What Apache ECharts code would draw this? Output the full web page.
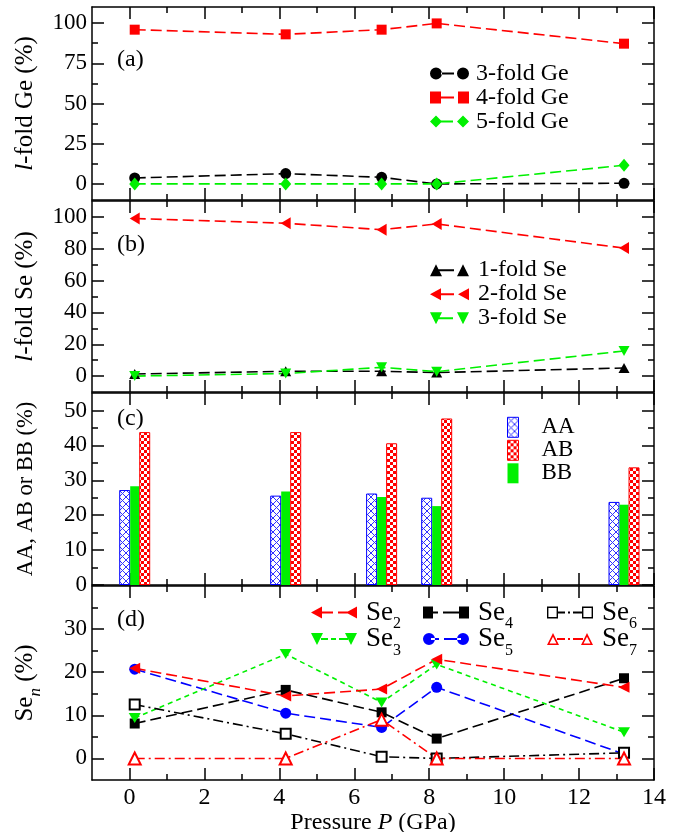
<!DOCTYPE html>
<html><head><meta charset="utf-8">
<script src="https://cdn.jsdelivr.net/npm/echarts@6/dist/echarts.min.js"></script>
<style>html,body{margin:0;padding:0;background:#fff}#c{width:681px;height:832px}</style>
</head><body><div id="c"></div>
<script>
// ---------------- data ----------------
const pressure = [0.14, 4.17, 6.73, 8.2, 13.2];
// (a) l-fold Ge (%)
const ge3fold = [3.7, 6.4, 4.1, 0, 0.4];
const ge4fold = [95.9, 93.0, 95.9, 99.8, 87.2];
const ge5fold = [0, 0, 0, 0, 11.6];
// (b) l-fold Se (%)
const se1fold = [1.3, 3.0, 3.0, 2.2, 5.1];
const se2fold = [99.0, 96.0, 92.0, 95.6, 80.4];
const se3fold = [0, 1.6, 5.5, 2.8, 15.8];
// (c) AA, AB, BB (%)
const bondAA = [27.2, 25.6, 26.2, 25.0, 23.8];
const bondAB = [43.8, 43.8, 40.6, 47.7, 33.7];
const bondBB = [28.3, 26.8, 25.2, 22.6, 23.0];
// (d) Se_n (%)
const seN2 = [20.9, 14.5, 16.1, 23.0, 16.5];
const seN3 = [9.4, 24.2, 13.0, 21.8, 6.1];
const seN4 = [8.1, 15.9, 10.7, 4.6, 18.6];
const seN5 = [20.7, 10.5, 7.2, 16.5, 1.0];
const seN6 = [12.5, 5.7, 0.4, 0, 1.3];
const seN7 = [0, 0, 9.0, 0, 0];
// ticks
const xTicks = [0, 2, 4, 6, 8, 10, 12, 14];
const xMinor = [1, 3, 5, 7, 9, 11, 13];
const yTicksA = [0, 25, 50, 75, 100], yMinorA = [12.5, 37.5, 62.5, 87.5];
const yTicksB = [0, 20, 40, 60, 80, 100], yMinorB = [10, 30, 50, 70, 90];
const yTicksC = [0, 10, 20, 30, 40, 50], yMinorC = [5, 15, 25, 35, 45];
const yTicksD = [0, 10, 20, 30], yMinorD = [5, 15, 25, 35];

// ---------------- styling ----------------
const FONT = 'Liberation Serif';
const BLACK = '#000000', RED = '#ff0000', GREEN = '#00f000', BLUE = '#0000ff';
const chart = echarts.init(document.getElementById('c'), null, {renderer: 'canvas', width: 681, height: 832});

const gridBoxes = [[7, 193], [201, 191], [393, 192], [586, 194]];
const grid = gridBoxes.map(([t, h]) => ({left: 92, right: 27, top: t, height: h, containLabel: false, outerBoundsMode: 'none'}));
const yRanges = [[-10, 110, 10], [-10, 110, 10], [0, 55, 5], [-5, 40, 5]];
const yMajors = [yTicksA, yTicksB, yTicksC, yTicksD];
const yMinors = [yMinorA, yMinorB, yMinorC, yMinorD];
const yNames = ['{i|l}-fold Ge (%)', '{i|l}-fold Se (%)', 'AA, AB or BB (%)', '{m|Se}{s|n}{m| (%)}'];
const yNameSizes = [25, 25, 22.5, 25];
const lineSt = {color: BLACK, width: 1.5};

const xAxis = [], yAxis = [];
for (let g = 0; g < 4; g++) {
  for (const pos of ['bottom', 'top']) {
    for (const major of [true, false]) {
      const showLab = major && g === 3 && pos === 'bottom';
      xAxis.push({
        type: 'value', gridIndex: g, position: pos, min: -1, max: 14, interval: 1,
        axisLine: {show: major, onZero: false, lineStyle: lineSt},
        axisTick: {show: true, inside: true, length: major ? 12 : 6, customValues: major ? xTicks : xMinor, lineStyle: lineSt},
        axisLabel: {show: showLab, customValues: xTicks, margin: 6, color: BLACK, fontFamily: FONT, fontSize: 24},
        splitLine: {show: false}, minorTick: {show: false},
        name: showLab ? 'Pressure {i|P} (GPa)' : '', nameLocation: 'middle', nameGap: 26,
        nameTextStyle: {color: BLACK, fontFamily: FONT, fontSize: 24,
          rich: {i: {fontStyle: 'italic', fontFamily: FONT, fontSize: 24, color: BLACK}}}
      });
    }
  }
  for (const pos of ['left', 'right']) {
    for (const major of [true, false]) {
      const showLab = major && pos === 'left';
      yAxis.push({
        type: 'value', gridIndex: g, position: pos, min: yRanges[g][0], max: yRanges[g][1], interval: yRanges[g][2],
        axisLine: {show: major, onZero: false, lineStyle: lineSt},
        axisTick: {show: true, inside: true, length: major ? 12 : 6, customValues: major ? yMajors[g] : yMinors[g], lineStyle: lineSt},
        axisLabel: {show: showLab, customValues: yMajors[g], margin: 5, color: BLACK, fontFamily: FONT, fontSize: 23},
        splitLine: {show: false}, minorTick: {show: false},
        name: showLab ? yNames[g] : '', nameLocation: 'middle', nameGap: 54,
        nameTextStyle: {color: BLACK, fontFamily: FONT, fontSize: yNameSizes[g],
          rich: {
            i: {fontStyle: 'italic', fontFamily: FONT, fontSize: yNameSizes[g], color: BLACK},
            m: {fontFamily: FONT, fontSize: 25, lineHeight: 25, verticalAlign: 'middle', color: BLACK},
            s: {fontFamily: FONT, fontSize: 17, fontStyle: 'italic', lineHeight: 10, padding: [14, 0, 0, 0], verticalAlign: 'top', color: BLACK}
          }}
      });
    }
  }
}

// ---------------- symbols / legend icons ----------------
const SYM_LEFT = 'path://M0,5L10,0L10,10Z';
const SYM_DOWN = 'path://M0,0L10,0L5,10Z';
function shape(type, x, y, w, h) {
  const cx = x + w / 2, cy = y + h / 2;
  switch (type) {
    case 'circle': { const r = w / 2; return `M${cx - r},${cy}A${r} ${r} 0 1 0 ${cx + r},${cy}A${r} ${r} 0 1 0 ${cx - r},${cy}Z`; }
    case 'rect': return `M${x},${y}L${x + w},${y}L${x + w},${y + h}L${x},${y + h}Z`;
    case 'diamond': return `M${cx},${y}L${x + w},${cy}L${cx},${y + h}L${x},${cy}Z`;
    case 'tri': return `M${cx},${y}L${x + w},${y + h}L${x},${y + h}Z`;
    case 'down': return `M${x},${y}L${x + w},${y}L${cx},${y + h}Z`;
    case 'left': return `M${x},${cy}L${x + w},${y}L${x + w},${y + h}Z`;
    case 'openRect': { const t = 1.4;
      return `M${x},${y}L${x + w},${y}L${x + w},${y + h}L${x},${y + h}Z` +
             `M${x + t},${y + t}L${x + t},${y + h - t}L${x + w - t},${y + h - t}L${x + w - t},${y + t}Z`; }
    case 'openTri': { const t = 1.4;
      return `M${cx},${y}L${x + w},${y + h}L${x},${y + h}Z` +
             `M${cx},${y + 2.6 * t}L${x + 1.8 * t},${y + h - t}L${x + w - 1.8 * t},${y + h - t}Z`; }
  }
}
function icon(type, W, H, s, segs) {
  let p = shape(type, 0, 0, s, H);
  for (const [a, b] of segs) p += `M${a},${H / 2 - 1}L${b},${H / 2 - 1}L${b},${H / 2 + 1}L${a},${H / 2 + 1}Z`;
  p += shape(type, W - s, 0, s, H);
  return 'path://' + p;
}

// ---------------- patterns ----------------
function hatch() {
  const c = document.createElement('canvas'); c.width = 7; c.height = 7;
  const ctx = c.getContext('2d');
  ctx.fillStyle = '#ffffff'; ctx.fillRect(0, 0, 7, 7);
  ctx.strokeStyle = '#3030ff'; ctx.lineWidth = 1;
  ctx.beginPath(); ctx.moveTo(0, 0); ctx.lineTo(7, 7); ctx.moveTo(7, 0); ctx.lineTo(0, 7); ctx.stroke();
  return {image: c, repeat: 'repeat'};
}
function checker() {
  const c = document.createElement('canvas'); c.width = 6; c.height = 6;
  const ctx = c.getContext('2d');
  ctx.fillStyle = '#ffffff'; ctx.fillRect(0, 0, 6, 6);
  ctx.fillStyle = RED; ctx.fillRect(0, 0, 3, 3); ctx.fillRect(3, 3, 3, 3);
  return {image: c, repeat: 'repeat'};
}
const patAA = hatch(), patAB = checker();

// ---------------- series ----------------
const pts = vals => pressure.map((p, i) => [p, vals[i]]);
function line(name, vals, g, color, symbol, size, dash, empty) {
  return {
    type: 'line', name, xAxisIndex: 4 * g, yAxisIndex: 4 * g, data: pts(vals),
    symbol, symbolSize: size, showAllSymbol: true, animation: false,
    lineStyle: {color, width: 1.6, type: dash},
    itemStyle: empty ? {color, borderColor: color, borderWidth: 1.4} : {color, borderWidth: 0}
  };
}
const DASH = [11, 5], SHORT = [5, 4], DASHDOT = [10, 4, 2, 4];
function bar(name, vals, pat, border, w) {
  return {
    type: 'bar', name, xAxisIndex: 8, yAxisIndex: 8, data: pts(vals), barWidth: w, barGap: '0%', animation: false,
    itemStyle: {color: pat, borderColor: border, borderWidth: border ? 1 : 0}
  };
}
const series = [
  line('3-fold Ge', ge3fold, 0, BLACK, 'circle', 11, DASH),
  line('4-fold Ge', ge4fold, 0, RED, 'rect', 10, DASH),
  line('5-fold Ge', ge5fold, 0, GREEN, 'diamond', [11, 13], DASH),
  line('1-fold Se', se1fold, 1, BLACK, 'triangle', [11, 10], DASH),
  line('2-fold Se', se2fold, 1, RED, SYM_LEFT, [10, 12], DASH),
  line('3-fold Se', se3fold, 1, GREEN, SYM_DOWN, [11, 10], DASH),
  bar('AA', bondAA, patAA, BLUE, 11),
  bar('BB', bondBB, GREEN, null, 9),
  bar('AB', bondAB, patAB, RED, 11),
  line('Se5', seN5, 3, BLUE, 'circle', 11, DASH),
  line('Se4', seN4, 3, BLACK, 'rect', 10, DASH),
  line('Se3', seN3, 3, GREEN, SYM_DOWN, [12, 10], SHORT),
  line('Se2', seN2, 3, RED, SYM_LEFT, [11, 11], DASH),
  line('Se6', seN6, 3, BLACK, 'emptyRect', 10, DASHDOT, true),
  line('Se7', seN7, 3, RED, 'emptyTriangle', 12, DASHDOT, true)
];

// ---------------- legends ----------------
const txt = (size, lh, padL) => ({color: BLACK, fontFamily: FONT, fontSize: size, lineHeight: lh, padding: [0, 0, 0, padL]});
const li = (name, ic, color) => ({name, icon: ic, itemStyle: {color, borderWidth: 0}});
const seRich = {
  m: {fontFamily: FONT, fontSize: 27, lineHeight: 31, verticalAlign: 'middle', color: BLACK},
  s: {fontFamily: FONT, fontSize: 16, lineHeight: 8, padding: [19, 0, 0, 0], verticalAlign: 'top', color: BLACK}
};
function seLegend(name, ic, color, left, rowCenter) {
  return {left, top: rowCenter - 15.5, orient: 'vertical', padding: 0, itemWidth: 46, itemHeight: 12, selectedMode: false,
    data: [li(name, ic, color)], formatter: n => '{m|Se}{s|' + n.slice(2) + '}',
    textStyle: Object.assign(txt(27, 31, 4), {rich: seRich})};
}
const legend = [
  {left: 430, top: 61.6, orient: 'vertical', padding: 0, itemWidth: 39, itemHeight: 12, itemGap: 0, selectedMode: false,
   textStyle: txt(24, 23.3, 2),
   data: [li('3-fold Ge', icon('circle', 39, 12, 12, [[11, 24]]), BLACK),
          li('4-fold Ge', icon('rect', 39, 12, 11, [[10, 24]]), RED),
          li('5-fold Ge', icon('diamond', 39, 12, 12, [[11, 23]]), GREEN)]},
  {left: 430, top: 258.2, orient: 'vertical', padding: 0, itemWidth: 39, itemHeight: 12, itemGap: 0, selectedMode: false,
   textStyle: txt(24, 23.7, 4),
   data: [li('1-fold Se', icon('tri', 39, 12, 12, [[8, 24]]), BLACK),
          li('2-fold Se', icon('left', 39, 12, 11, [[8, 24]]), RED),
          li('3-fold Se', icon('down', 39, 12, 12, [[8, 23]]), GREEN)]},
  {left: 507, top: 415.8, orient: 'vertical', padding: 0, itemWidth: 11, itemHeight: 20, itemGap: 0, selectedMode: false,
   textStyle: txt(23, 21.7, 18),
   data: [{name: 'AA', icon: 'rect', itemStyle: {color: patAA, borderColor: BLUE, borderWidth: 1}},
          {name: 'AB', icon: 'rect', itemStyle: {color: patAB, borderColor: RED, borderWidth: 1}},
          {name: 'BB', icon: 'rect', itemStyle: {color: GREEN, borderWidth: 0}}]},
  seLegend('Se2', icon('left', 46, 12, 11, [[8, 22], [27, 38]]), RED, 311, 612.5),
  seLegend('Se3', icon('down', 46, 12, 12, [[10, 17], [20, 25], [28, 37]]), GREEN, 311, 639),
  seLegend('Se4', icon('rect', 46, 12, 10, [[8, 15], [20, 38]]), BLACK, 423, 612.5),
  seLegend('Se5', icon('circle', 46, 12, 12, [[8, 16], [21, 38]]), BLUE, 423, 639),
  seLegend('Se6', icon('openRect', 46, 12, 11, [[10, 18], [21, 23], [26, 36]]), BLACK, 547, 612.5),
  seLegend('Se7', icon('openTri', 46, 12, 12, [[10, 18], [21, 23], [26, 36]]), RED, 547, 639)
];

// ---------------- panel labels ----------------
const panelLabels = [['(a)', 60], ['(b)', 245], ['(c)', 418.5], ['(d)', 620]];
const graphic = panelLabels.map(([t, y]) => ({
  type: 'text', x: 117, y, z: 100,
  style: {text: t, fill: BLACK, font: '24px "Liberation Serif"', align: 'left', verticalAlign: 'middle'}
}));

chart.setOption({
  backgroundColor: '#ffffff', animation: false,
  grid, xAxis, yAxis, series, legend, graphic
});
</script>
</body></html>
